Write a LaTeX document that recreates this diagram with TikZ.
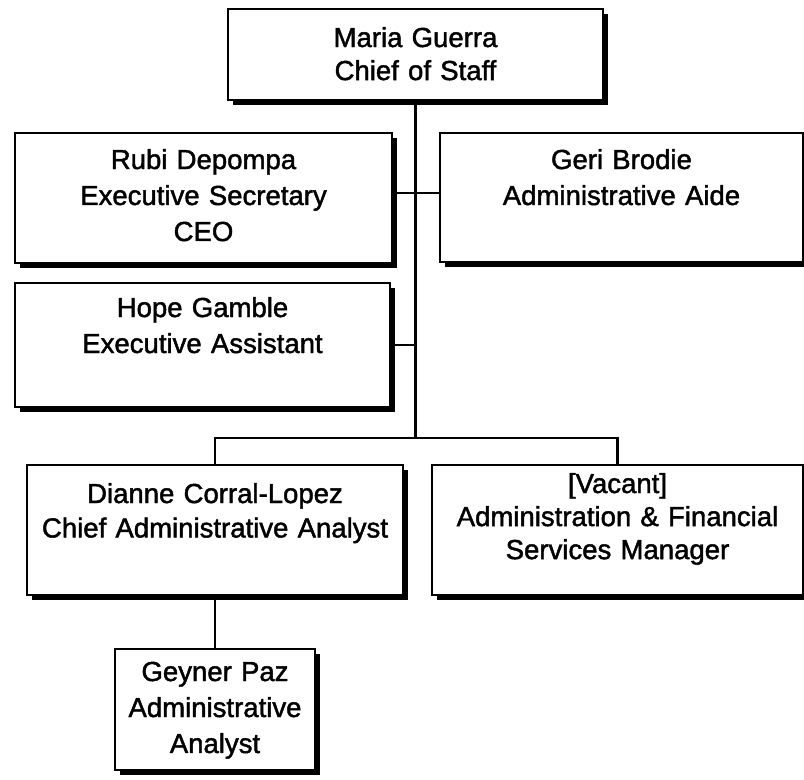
\documentclass[tikz,border=0pt]{standalone}
\usepackage{fontspec}
\setmainfont{Liberation Sans}
\newfontfamily\orgfont{Liberation Sans}[FakeBold=1.6]
\usetikzlibrary{shadows}

\begin{document}
\begin{tikzpicture}[
    orgbox/.style={draw=black, line width=1.5pt, fill=white, align=center,
        anchor=north west, inner sep=0pt, outer sep=0pt, text height=0.9cm,
        font=\orgfont\fontsize{19.6}{25.6}\selectfont,
        drop shadow={shadow xshift=3.4pt, shadow yshift=-3.4pt, fill=black, opacity=1}},
    link/.style={line width=1.6pt, color=black}
]
    \useasboundingbox (0,0) rectangle (20.1,-19.475);

    % top of the chart
    \node[orgbox, text width=9.375cm, text height=0.95cm, text depth=1.325cm,
          font=\orgfont\fontsize{19.6}{23.5}\selectfont] (chief) at (5.7,-0.225) {Maria Guerra\\Chief of Staff};

    % staff next to the chief
    \node[orgbox, text width=9.425cm, text depth=2.35cm] (rubi) at (0.375,-3.325) {Rubi Depompa\\Executive Secretary\\CEO};
    \node[orgbox, text width=9.075cm, text depth=2.325cm] (geri) at (11.0,-3.325) {Geri Brodie\\Administrative Aide};
    \node[orgbox, text width=9.375cm, text height=0.85cm, text depth=2.25cm] (hope) at (0.375,-7.075) {Hope Gamble\\Executive Assistant};

    % analysts and managers
    \node[orgbox, text width=9.4cm, text height=0.95cm, text depth=2.3cm,
          font=\orgfont\fontsize{19.6}{24.5}\selectfont] (dianne) at (0.675,-11.625) {Dianne Corral-Lopez\\Chief Administrative Analyst};
    \node[orgbox, text width=9.275cm, text height=0.7cm, text depth=2.55cm,
          font=\orgfont\fontsize{19.6}{23.5}\selectfont] (vacant) at (10.8,-11.625) {[Vacant]\\Administration \& Financial\\Services Manager};
    \node[orgbox, text width=5.0cm, text height=0.8cm, text depth=2.225cm] (geyner) at (2.875,-16.225) {Geyner Paz\\Administrative\\Analyst};

    % connectors
    \coordinate (bus) at (chief.south |- 0,-10.95);
    \draw[link] ([yshift=0.12cm]rubi.east) -- ([yshift=0.12cm]rubi.east -| geri.west);
    \draw[link] (chief.south) -- (bus);
    \draw[link] (hope.east) -- (hope.east -| bus);
    \draw[link] (dianne.north) |- (bus) -| (vacant.north);
    \draw[link] (dianne.south) -- (dianne.south |- geyner.north);
\end{tikzpicture}
\end{document}
